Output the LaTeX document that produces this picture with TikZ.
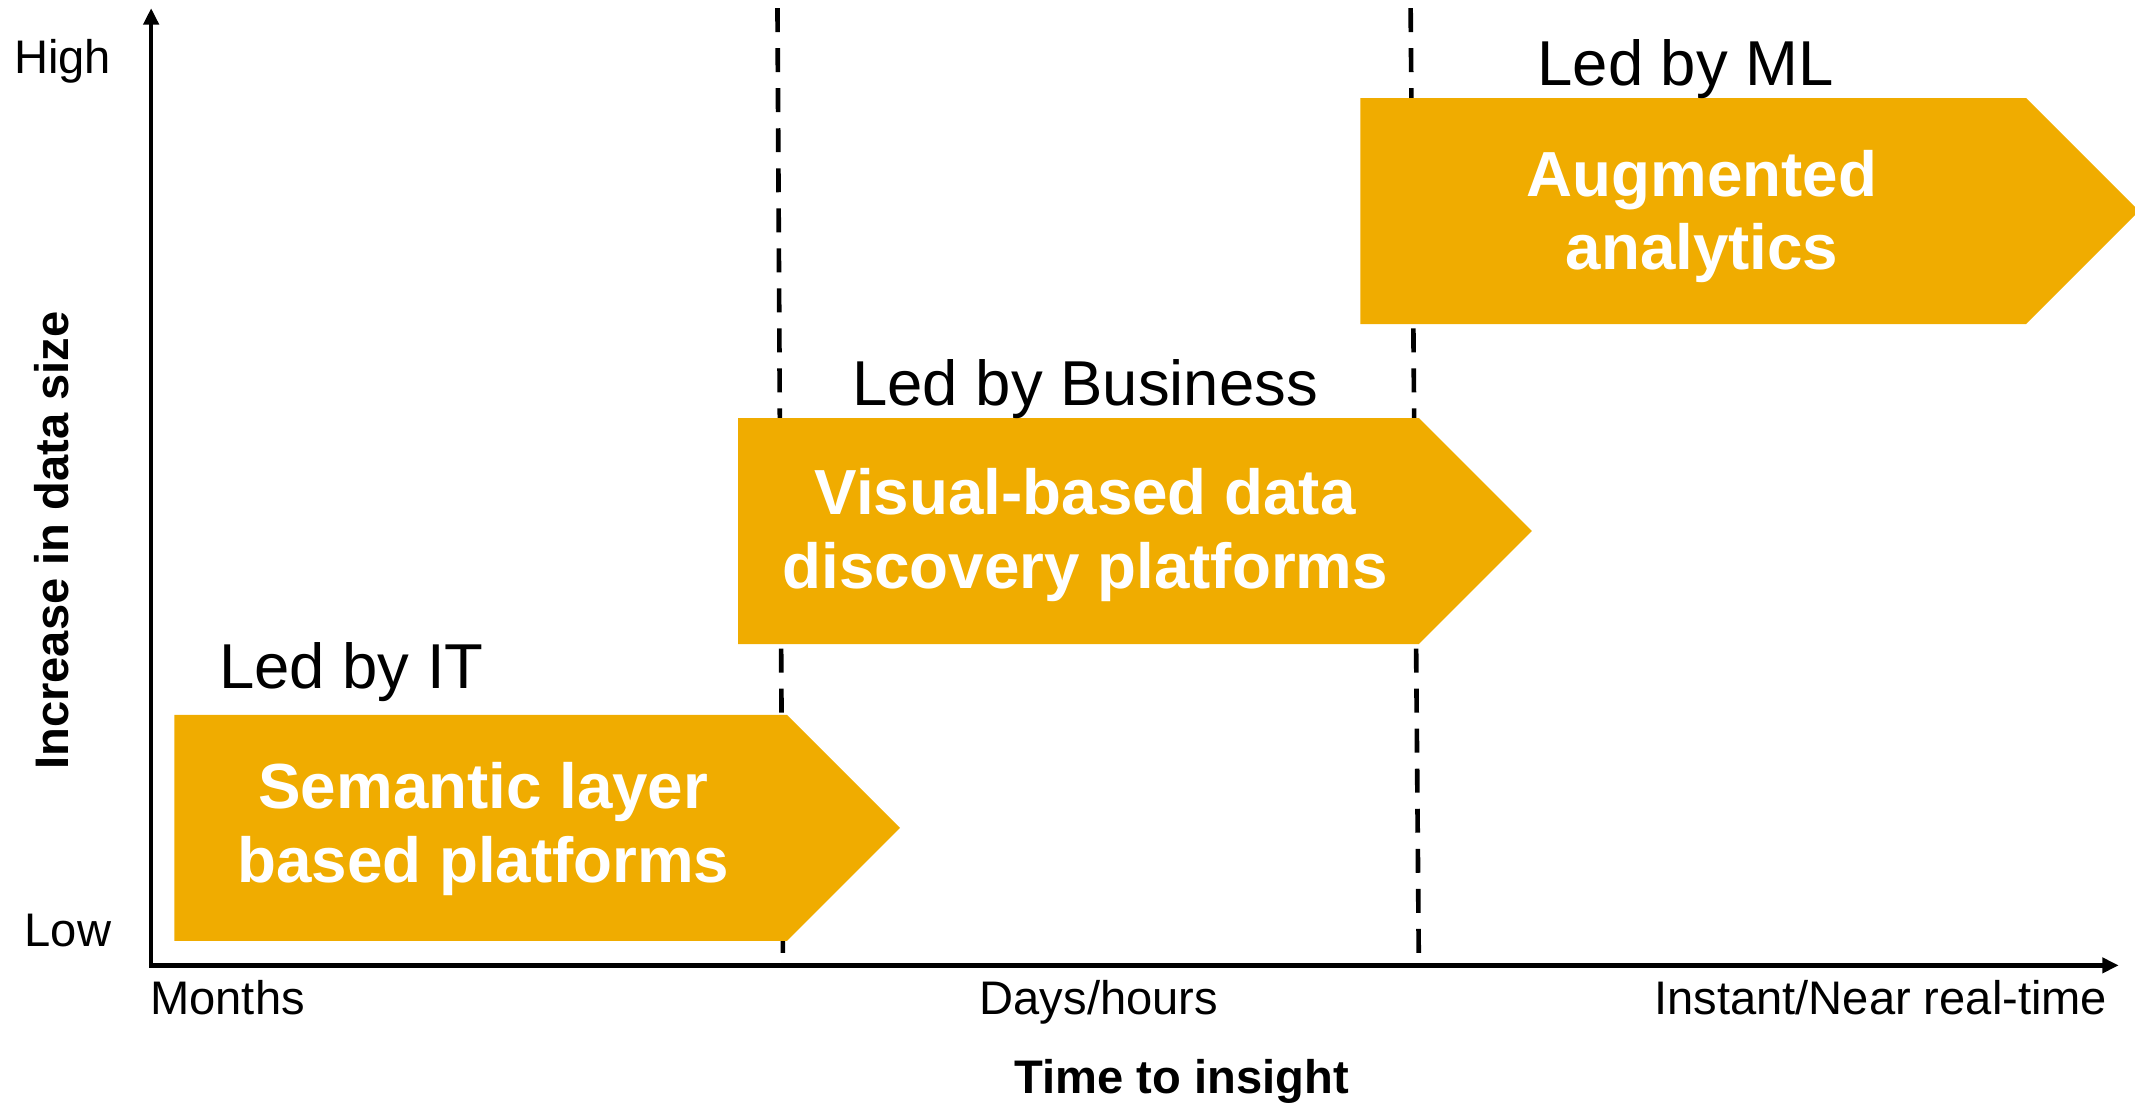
\documentclass[tikz,border=0pt]{standalone}
\usepackage{fontspec}
\setmainfont{Liberation Sans}
\usetikzlibrary{arrows.meta}
\definecolor{gold}{RGB}{240,172,0}

\tikzset{
  axis/.style={line width=1.6pt,
    {Triangle[length=6pt,width=5.5pt]}-{Triangle[length=6pt,width=5.5pt]}},
  divider/.style={line width=1.7pt, dash pattern=on 8.8pt off 5.9pt},
  stage/.style={fill=gold},
  stagetext/.style={text=white, align=center,
    font=\bfseries\fontsize{23.4}{27}\selectfont},
  leader/.style={anchor=base, inner sep=0pt, font=\fontsize{23.3}{27}\selectfont},
  tick/.style={anchor=base, inner sep=0pt, font=\fontsize{17.3}{20}\selectfont},
  axislabel/.style={inner sep=0pt, font=\bfseries\fontsize{17.3}{20}\selectfont},
}

\begin{document}
\begin{tikzpicture}[x=0.5pt, y=-0.5pt]
\useasboundingbox (0,0) rectangle (1568,812);

% dividers between the eras
\coordinate (d1top) at (571,6);
\coordinate (d1bot) at (575,705);
\coordinate (d2top) at (1036,6);
\coordinate (d2bot) at (1042,705);
\draw[divider] (d1top) -- (d1bot);
\draw[divider] (d2top) -- (d2bot);

% the three stages
\fill[stage] (128,525) -- (578,525) -- (661,608) -- (578,691) -- (128,691) -- cycle;
\fill[stage] (542,307) -- (1042,307) -- (1125,390) -- (1042,473) -- (542,473) -- cycle;
\fill[stage] (999,72) -- (1488,72) -- (1571,155) -- (1488,238) -- (999,238) -- cycle;

\node[stagetext] (semantic) at (355,609) {Semantic layer\\based platforms};
\node[stagetext] (visual) at (797,393) {Visual-based data\\discovery platforms};
\node[stagetext] (augmented) at (1250,159) {Augmented\\analytics};

\node[leader] (ledIT) at (258,506) {Led by IT};
\node[leader] (ledBus) at (797,298) {Led by Business};
\node[leader] (ledML) at (1238,63) {Led by ML};

% axes
\coordinate (O) at (111,709);
\coordinate (ytip) at (111,6);
\coordinate (xtip) at (1556,709);
\draw[axis] (ytip) -- (O) -- (xtip);

\node[tick, anchor=base east] (high) at (82,54) {High};
\node[tick, anchor=base east] (low) at (82,695) {Low};
\node[tick, anchor=base west] (months) at (110,745) {Months};
\node[tick] (days) at (807,745) {Days/hours};
\node[tick, anchor=base east] (instant) at (1548,745) {Instant/Near real-time};

\node[axislabel, anchor=base] (xlabel) at (868,803) {Time to insight};
\node[axislabel, rotate=90] (ylabel) at (38,397) {Increase in data size};
\end{tikzpicture}
\end{document}
